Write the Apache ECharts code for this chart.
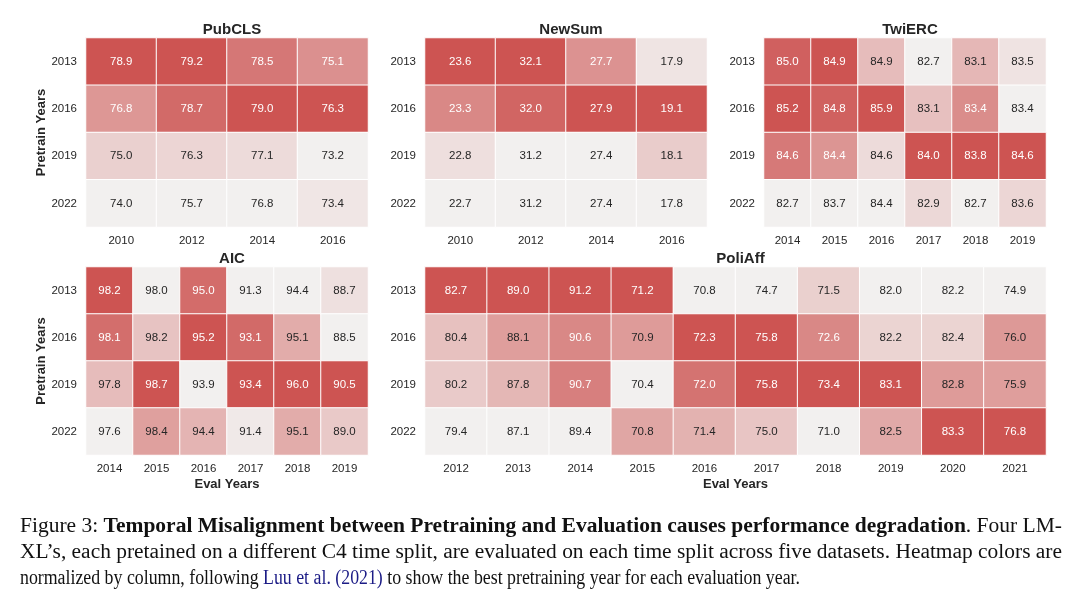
<!DOCTYPE html>
<html><head><meta charset="utf-8">
<script src="https://cdn.jsdelivr.net/npm/echarts/dist/echarts.min.js"></script>
<style>html,body{margin:0;padding:0;background:#fff}#c{width:1080px;height:605px}</style>
</head><body><div id="c"></div>
<script>
// ---------------- data ----------------
const pretrainYears = ['2013', '2016', '2019', '2022'];

const pubclsYears = ['2010', '2012', '2014', '2016'];
const pubclsValues = [
  [78.9, 79.2, 78.5, 75.1],
  [76.8, 78.7, 79.0, 76.3],
  [75.0, 76.3, 77.1, 73.2],
  [74.0, 75.7, 76.8, 73.4]
];

const newsumYears = ['2010', '2012', '2014', '2016'];
const newsumValues = [
  [23.6, 32.1, 27.7, 17.9],
  [23.3, 32.0, 27.9, 19.1],
  [22.8, 31.2, 27.4, 18.1],
  [22.7, 31.2, 27.4, 17.8]
];

const twiercYears = ['2014', '2015', '2016', '2017', '2018', '2019'];
const twiercValues = [
  [85.0, 84.9, 84.9, 82.7, 83.1, 83.5],
  [85.2, 84.8, 85.9, 83.1, 83.4, 83.4],
  [84.6, 84.4, 84.6, 84.0, 83.8, 84.6],
  [82.7, 83.7, 84.4, 82.9, 82.7, 83.6]
];

// a few values carry a second decimal, estimated from the cell shade (labels show one decimal)
const aicYears = ['2014', '2015', '2016', '2017', '2018', '2019'];
const aicValues = [
  [98.2, 98.0, 95.0, 91.3, 94.4, 88.7],
  [98.1, 98.2, 95.2, 93.1, 95.1, 88.5],
  [97.8, 98.7, 93.9, 93.4, 96.0, 90.5],
  [97.6, 98.36, 94.4, 91.4, 95.1, 89.0]
];

const poliaffYears = ['2012', '2013', '2014', '2015', '2016', '2017', '2018', '2019', '2020', '2021'];
const poliaffValues = [
  [82.7, 89.0, 91.2, 71.24, 70.8, 74.7, 71.5, 82.0, 82.2, 74.9],
  [80.4, 88.1, 90.6, 70.86, 72.3, 75.8, 72.6, 82.2, 82.4, 75.96],
  [80.2, 87.8, 90.7, 70.4, 72.0, 75.8, 73.4, 83.1, 82.8, 75.9],
  [79.4, 87.1, 89.4, 70.8, 71.4, 75.0, 71.0, 82.5, 83.3, 76.8]
];

const captionLines = [
  [['r', 'Figure 3: '], ['b', 'Temporal Misalignment between Pretraining and Evaluation causes performance degradation'], ['r', '. Four LM-']],
  [['r', 'XL\u2019s, each pretained on a different C4 time split, are evaluated on each time split across five datasets. Heatmap colors are']],
  [['r', 'normalized by column, following '], ['l', 'Luu et al. (2021)'], ['r', ' to show the best pretraining year for each evaluation year.']]
];

// ---------------- layout / style ----------------
const F = '"Liberation Sans", Arial, sans-serif';
const TXT = '#262626';
const LIGHT = [242, 240, 239];
const DARK = [205, 84, 82];
const WHITE_TEXT_FROM = 0.565;

const panels = [
  { title: 'PubCLS', cats: pubclsYears, vals: pubclsValues, left: 86, top: 38, width: 282, height: 189, yName: true, xName: false },
  { title: 'NewSum', cats: newsumYears, vals: newsumValues, left: 425, top: 38, width: 282, height: 189, yName: false, xName: false },
  { title: 'TwiERC', cats: twiercYears, vals: twiercValues, left: 764, top: 38, width: 282, height: 189, yName: false, xName: false },
  { title: 'AIC', cats: aicYears, vals: aicValues, left: 86, top: 267, width: 282, height: 188, yName: true, xName: true },
  { title: 'PoliAff', cats: poliaffYears, vals: poliaffValues, left: 425, top: 267, width: 621, height: 188, yName: false, xName: true }
];

const grids = [], xAxes = [], yAxes = [], series = [], titles = [];
panels.forEach((p, i) => {
  grids.push({ left: p.left, top: p.top, width: p.width, height: p.height });
  titles.push({
    text: p.title, left: p.left + p.width / 2, top: p.top - 21, textAlign: 'center',
    textStyle: { fontFamily: F, fontSize: 15, fontWeight: 'bold', color: TXT }
  });
  xAxes.push({
    type: 'category', gridIndex: i, data: p.cats, position: 'bottom',
    axisLine: { show: false }, axisTick: { show: false }, splitLine: { show: false }, splitArea: { show: false },
    axisLabel: { interval: 0, color: TXT, fontFamily: F, fontSize: 11.5, margin: 8 },
    name: p.xName ? 'Eval Years' : '', nameLocation: 'middle', nameGap: 23,
    nameTextStyle: { fontFamily: F, fontSize: 13, fontWeight: 'bold', color: TXT }
  });
  yAxes.push({
    type: 'category', gridIndex: i, data: pretrainYears, inverse: true,
    axisLine: { show: false }, axisTick: { show: false }, splitLine: { show: false }, splitArea: { show: false },
    axisLabel: { interval: 0, color: TXT, fontFamily: F, fontSize: 11.5, margin: 9 },
    name: p.yName ? 'Pretrain Years' : '', nameLocation: 'middle', nameGap: 35, nameRotate: 90,
    nameTextStyle: { fontFamily: F, fontSize: 13, fontWeight: 'bold', color: TXT }
  });
  const data = [];
  for (let c = 0; c < p.cats.length; c++) {
    const col = p.vals.map(r => r[c]);
    const mn = Math.min(...col), mx = Math.max(...col);
    for (let r = 0; r < pretrainYears.length; r++) {
      const v = p.vals[r][c];
      const t = mx > mn ? (v - mn) / (mx - mn) : 0;
      const rgb = LIGHT.map((l, k) => Math.round(l + (DARK[k] - l) * t));
      data.push({
        value: [c, r, v],
        itemStyle: { color: 'rgb(' + rgb.join(',') + ')' },
        label: { color: t > WHITE_TEXT_FROM ? '#ffffff' : TXT }
      });
    }
  }
  series.push({
    type: 'heatmap', xAxisIndex: i, yAxisIndex: i, data: data,
    itemStyle: { borderColor: '#ffffff', borderWidth: 1 },
    label: { show: true, fontFamily: F, fontSize: 11.5, formatter: q => q.value[2].toFixed(1) },
    emphasis: { disabled: true }
  });
});

// ---------------- caption ----------------
const CF = '"Liberation Serif", "DejaVu Serif", serif';
const CS = 20;
const ctx = document.createElement('canvas').getContext('2d');
const richStyles = {
  r: { fontFamily: CF, fontSize: CS, fontWeight: 'normal', fill: '#111111' },
  b: { fontFamily: CF, fontSize: CS, fontWeight: 'bold', fill: '#111111' },
  l: { fontFamily: CF, fontSize: CS, fontWeight: 'normal', fill: '#1c1c86' }
};
function segWidth(st, txt) {
  ctx.font = (st === 'b' ? 'bold ' : '') + CS + 'px ' + CF;
  return ctx.measureText(txt).width;
}
const capLeft = 20;
const lineRight = [1062, 1062, 800];
const lineYs = [527, 553, 579];
const graphics = captionLines.map((segs, li) => {
  const nat = segs.reduce((a, s) => a + segWidth(s[0], s[1]), 0);
  const k = (lineRight[li] - capLeft) / nat;
  return {
    type: 'text', x: capLeft, y: lineYs[li], scaleX: k, silent: true,
    style: {
      text: segs.map(s => '{' + s[0] + '|' + s[1] + '}').join(''),
      rich: richStyles, verticalAlign: 'middle', align: 'left',
      font: CS + 'px ' + CF
    }
  };
});

const chart = echarts.init(document.getElementById('c'));
chart.setOption({
  animation: false,
  backgroundColor: '#ffffff',
  title: titles,
  grid: grids,
  xAxis: xAxes,
  yAxis: yAxes,
  series: series,
  graphic: graphics
});
</script>
</body></html>
